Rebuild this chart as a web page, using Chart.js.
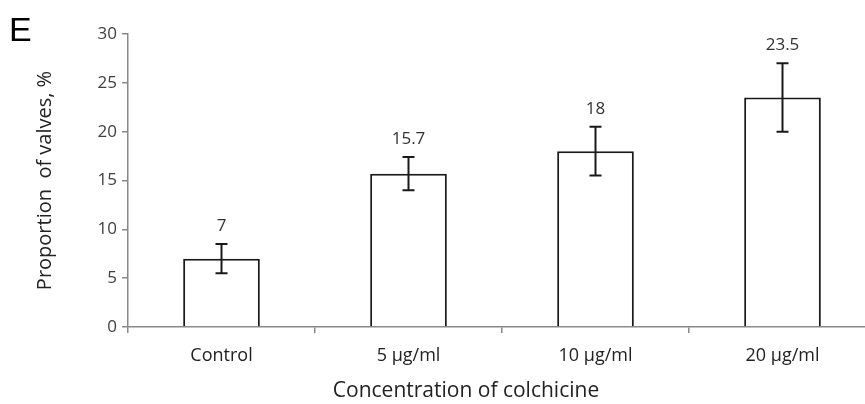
<!DOCTYPE html>
<html>
<head>
<meta charset="utf-8">
<script src="https://cdn.jsdelivr.net/npm/chart.js@4.4.1/dist/chart.umd.min.js"></script>
<style>
  html, body { margin: 0; padding: 0; background: #fff; overflow: hidden; }
  #wrap { position: relative; width: 880px; height: 404px; }
</style>
</head>
<body>
<div id="wrap"><canvas id="barChart" width="880" height="404"></canvas></div>
<script>
var categories = ["Control", "5 \u00b5g/ml", "10 \u00b5g/ml", "20 \u00b5g/ml"];
var values = [7, 15.7, 18, 23.5];
var errors = [1.5, 1.7, 2.5, 3.5];
var valueLabels = ["7", "15.7", "18", "23.5"];
var yTicks = [0, 5, 10, 15, 20, 25, 30];
var xTitle = "Concentration of colchicine";

var FONT = "'Open Sans', 'Noto Sans', sans-serif";

// error bars, value labels, x title and the panel letter
var extrasPlugin = {
  id: 'extras',
  afterDatasetsDraw: function (chart) {
    var ctx = chart.ctx;
    var x = chart.scales.x, y = chart.scales.y;
    ctx.save();
    ctx.strokeStyle = '#1a1a1a';
    ctx.lineWidth = 2;
    for (var i = 0; i < values.length; i++) {
      var cx = x.getPixelForValue(i);
      var top = y.getPixelForValue(values[i] + errors[i]);
      var bot = y.getPixelForValue(values[i] - errors[i]);
      ctx.beginPath();
      ctx.moveTo(cx, top); ctx.lineTo(cx, bot);
      ctx.moveTo(cx - 6, top); ctx.lineTo(cx + 6, top);
      ctx.moveTo(cx - 6, bot); ctx.lineTo(cx + 6, bot);
      ctx.stroke();
      ctx.fillStyle = '#333';
      ctx.font = "17px " + FONT;
      ctx.textAlign = 'center';
      ctx.textBaseline = 'middle';
      ctx.fillText(valueLabels[i], cx, top - 18);
    }
    // x title sits left of the axis centre in the original (figure is cropped on the right)
    ctx.fillStyle = '#222';
    ctx.font = "21px " + FONT;
    ctx.fillText(xTitle, 466, 391);

    ctx.fillStyle = '#000';
    ctx.font = "34px 'Liberation Sans', Arial, sans-serif";
    ctx.textAlign = 'left';
    ctx.textBaseline = 'alphabetic';
    ctx.fillText('E', 9, 41);
    ctx.restore();
  }
};

new Chart(document.getElementById('barChart').getContext('2d'), {
  type: 'bar',
  data: {
    labels: categories,
    datasets: [{
      data: values,
      backgroundColor: '#ffffff',
      borderColor: '#1a1a1a',
      borderWidth: 2,
      barPercentage: 0.41,
      categoryPercentage: 1.0
    }]
  },
  options: {
    responsive: false,
    animation: false,
    devicePixelRatio: 1,
    layout: { padding: { top: 34, right: 4, bottom: 0, left: 0 } },
    plugins: { legend: { display: false }, tooltip: { enabled: false } },
    scales: {
      y: {
        min: 0, max: 30,
        afterBuildTicks: function (s) { s.ticks = yTicks.map(function (v) { return { value: v }; }); },
        afterFit: function (s) { s.width = 128; },
        border: { color: '#888', width: 1.5 },
        grid: { drawOnChartArea: false, drawTicks: true, tickLength: 6, color: '#888', lineWidth: 1.5 },
        ticks: { color: '#404040', font: { family: FONT, size: 17 }, padding: 5 },
        title: {
          display: true, text: 'Proportion  of valves, %', color: '#222',
          font: { family: FONT, size: 20 }, padding: { top: 33 }
        }
      },
      x: {
        afterFit: function (s) { s.height = 77; },
        border: { color: '#888', width: 1.5 },
        grid: { drawOnChartArea: false, drawTicks: true, tickLength: 6, color: '#888', lineWidth: 1.5 },
        ticks: { color: '#222', font: { family: FONT, size: 18 }, padding: 12 }
      }
    }
  },
  plugins: [extrasPlugin]
});
</script>
</body>
</html>
